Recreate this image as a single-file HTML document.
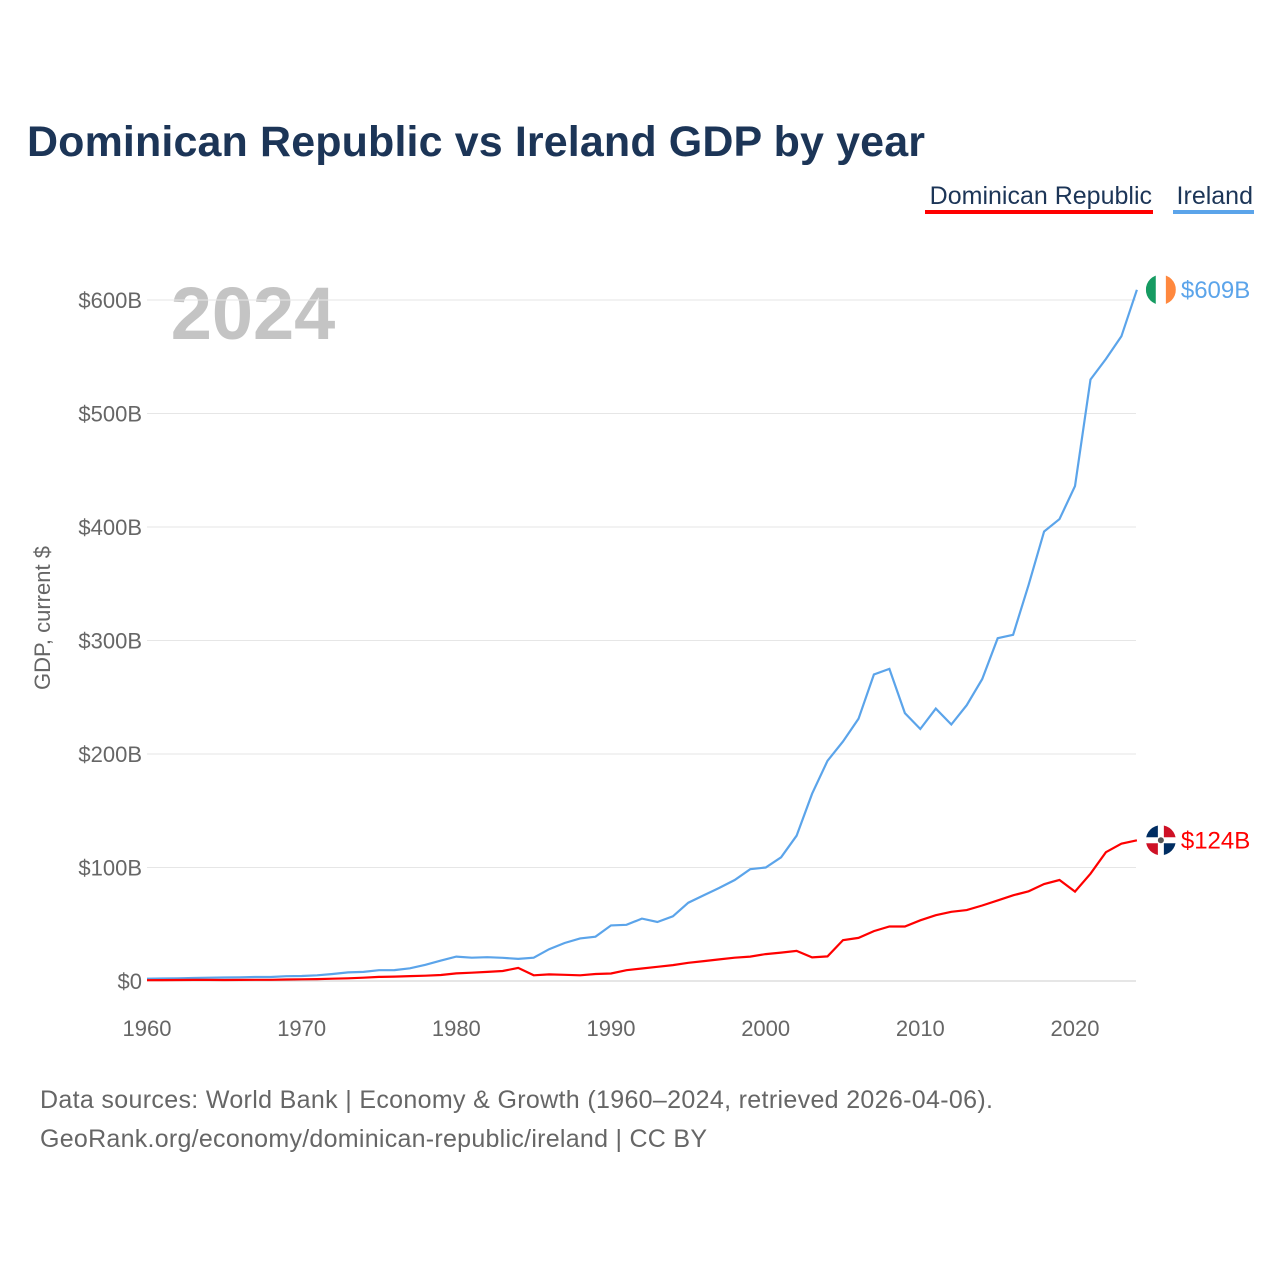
<!DOCTYPE html>
<html><head><meta charset="utf-8"><style>
body{margin:0;background:#fff;font-family:"Liberation Sans",sans-serif}
svg text{font-family:"Liberation Sans",sans-serif}
</style></head><body>
<svg width="1280" height="1280" viewBox="0 0 1280 1280">
<text x="27" y="156" font-size="43" font-weight="bold" fill="#1c3557" textLength="898">Dominican Republic vs Ireland GDP by year</text>
<g>
<text x="1152" y="204" font-size="25" fill="#1c3557" text-anchor="end">Dominican Republic</text>
<rect x="925" y="210" width="228" height="4" fill="#f00"/>
<text x="1253" y="204" font-size="25" fill="#1c3557" text-anchor="end">Ireland</text>
<rect x="1173" y="210" width="81" height="4" fill="#5ba4ea"/>
</g>
<text x="253" y="339" font-size="74" font-weight="bold" fill="#c4c4c4" text-anchor="middle">2024</text>
<text transform="translate(50,618) rotate(-90)" font-size="22" fill="#666" text-anchor="middle">GDP, current $</text>
<g id="grid"></g><g id="lines"></g><g id="labels"></g>
<text x="40" y="1108" font-size="25" fill="#666" textLength="953">Data sources: World Bank | Economy &amp; Growth (1960–2024, retrieved 2026-04-06).</text>
<text x="40" y="1147" font-size="25" fill="#666" textLength="667">GeoRank.org/economy/dominican-republic/ireland | CC BY</text>
</svg>
<script>
const years=[];for(let y=1960;y<=2024;y++)years.push(y);
const ireland=[2.0,2.2,2.4,2.6,2.9,3.1,3.3,3.5,3.5,4.2,4.4,5.0,6.2,7.6,8.0,9.5,9.6,11.2,14.3,18,21.5,20.5,21,20.4,19.5,20.5,28,33.5,37.5,39,49,49.5,55,52,57,69,75.5,82,89,98.5,100,109,128,165,194,211,231,270,275,236,222,240,226,243,266,302,305,349,396,407,436,530,548,568,609];
const dominican=[0.7,0.8,0.9,1.0,1.0,0.9,1.0,1.1,1.1,1.3,1.5,1.7,2.0,2.4,2.9,3.6,3.9,4.3,4.7,5.3,6.7,7.3,8.0,8.8,11.5,5.0,5.8,5.5,5.0,6.2,6.6,9.5,11,12.5,14,16,17.5,19,20.5,21.5,23.7,25,26.5,20.8,21.7,36,38,44,48,48,53.5,58,61,62.5,66.5,71,75.5,79,85.5,89,78.8,94.5,113.5,121,124];
const yTicks=[0,100,200,300,400,500,600];
const yTickLabels=["$0","$100B","$200B","$300B","$400B","$500B","$600B"];
const xTicks=[1960,1970,1980,1990,2000,2010,2020];
const NS="http://www.w3.org/2000/svg";
const X=y=>147+(y-1960)*928/60, Y=v=>981-v*681/600;
function mk(t,a,p){const e=document.createElementNS(NS,t);for(const k in a)e.setAttribute(k,a[k]);document.getElementById(p).appendChild(e);return e;}
yTicks.forEach((v,i)=>{
 const l=mk('line',{x1:147,x2:1136,y1:Y(v),y2:Y(v),stroke:v===0?'#ccc':'#e6e6e6','stroke-width':1},'grid');
 
 
 const t=mk('text',{x:142,y:Y(v)+8,'font-size':22,fill:'#666','text-anchor':'end'},'grid');t.textContent=yTickLabels[i];
 
 
});
xTicks.forEach(y=>{
 const t=mk('text',{x:X(y),y:1036,'font-size':22,fill:'#666','text-anchor':'middle'},'grid');t.textContent=y;
 
 
});
function line(d,c,n){const p=mk('path',{d:d.map((v,i)=>(i?'L':'M')+X(years[i]).toFixed(1)+','+Y(v).toFixed(1)).join(''),fill:'none',stroke:c,'stroke-width':2.2},'lines');
 
 }
line(ireland,'#5ba4ea','ireland-line');line(dominican,'#f00','dominican-republic-line');
const li=ireland.length-1,ld=dominican.length-1;
const ex=X(2024)+24;
const iy=Y(ireland[li]);
const gi=mk('g',{},'labels');


gi.innerHTML=`<clipPath id="ci"><circle cx="${ex}" cy="${iy}" r="15"/></clipPath><g clip-path="url(#ci)"><rect x="${ex-15}" y="${iy-15}" width="10" height="30" fill="#169b62"/><rect x="${ex-5}" y="${iy-15}" width="10" height="30" fill="#fff"/><rect x="${ex+5}" y="${iy-15}" width="10" height="30" fill="#ff883e"/></g>`;
const ti=mk('text',{x:ex+20,y:iy+8,'font-size':24,fill:'#5ba4ea'},'labels');ti.textContent='$'+Math.round(ireland[li])+'B';


const dy=Y(dominican[ld]);
const gd=mk('g',{},'labels');


gd.innerHTML=`<clipPath id="cd"><circle cx="${ex}" cy="${dy}" r="15"/></clipPath><g clip-path="url(#cd)"><rect x="${ex-15}" y="${dy-15}" width="30" height="30" fill="#fff"/><rect x="${ex-15}" y="${dy-15}" width="12" height="12" fill="#002d62"/><rect x="${ex+3}" y="${dy+3}" width="12" height="12" fill="#002d62"/><rect x="${ex+3}" y="${dy-15}" width="12" height="12" fill="#ce1126"/><rect x="${ex-15}" y="${dy+3}" width="12" height="12" fill="#ce1126"/><circle cx="${ex}" cy="${dy}" r="3" fill="#555"/></g>`;
const td=mk('text',{x:ex+20,y:dy+8,'font-size':24,fill:'#f00'},'labels');td.textContent='$'+Math.round(dominican[ld])+'B';


</script>
</body></html>
